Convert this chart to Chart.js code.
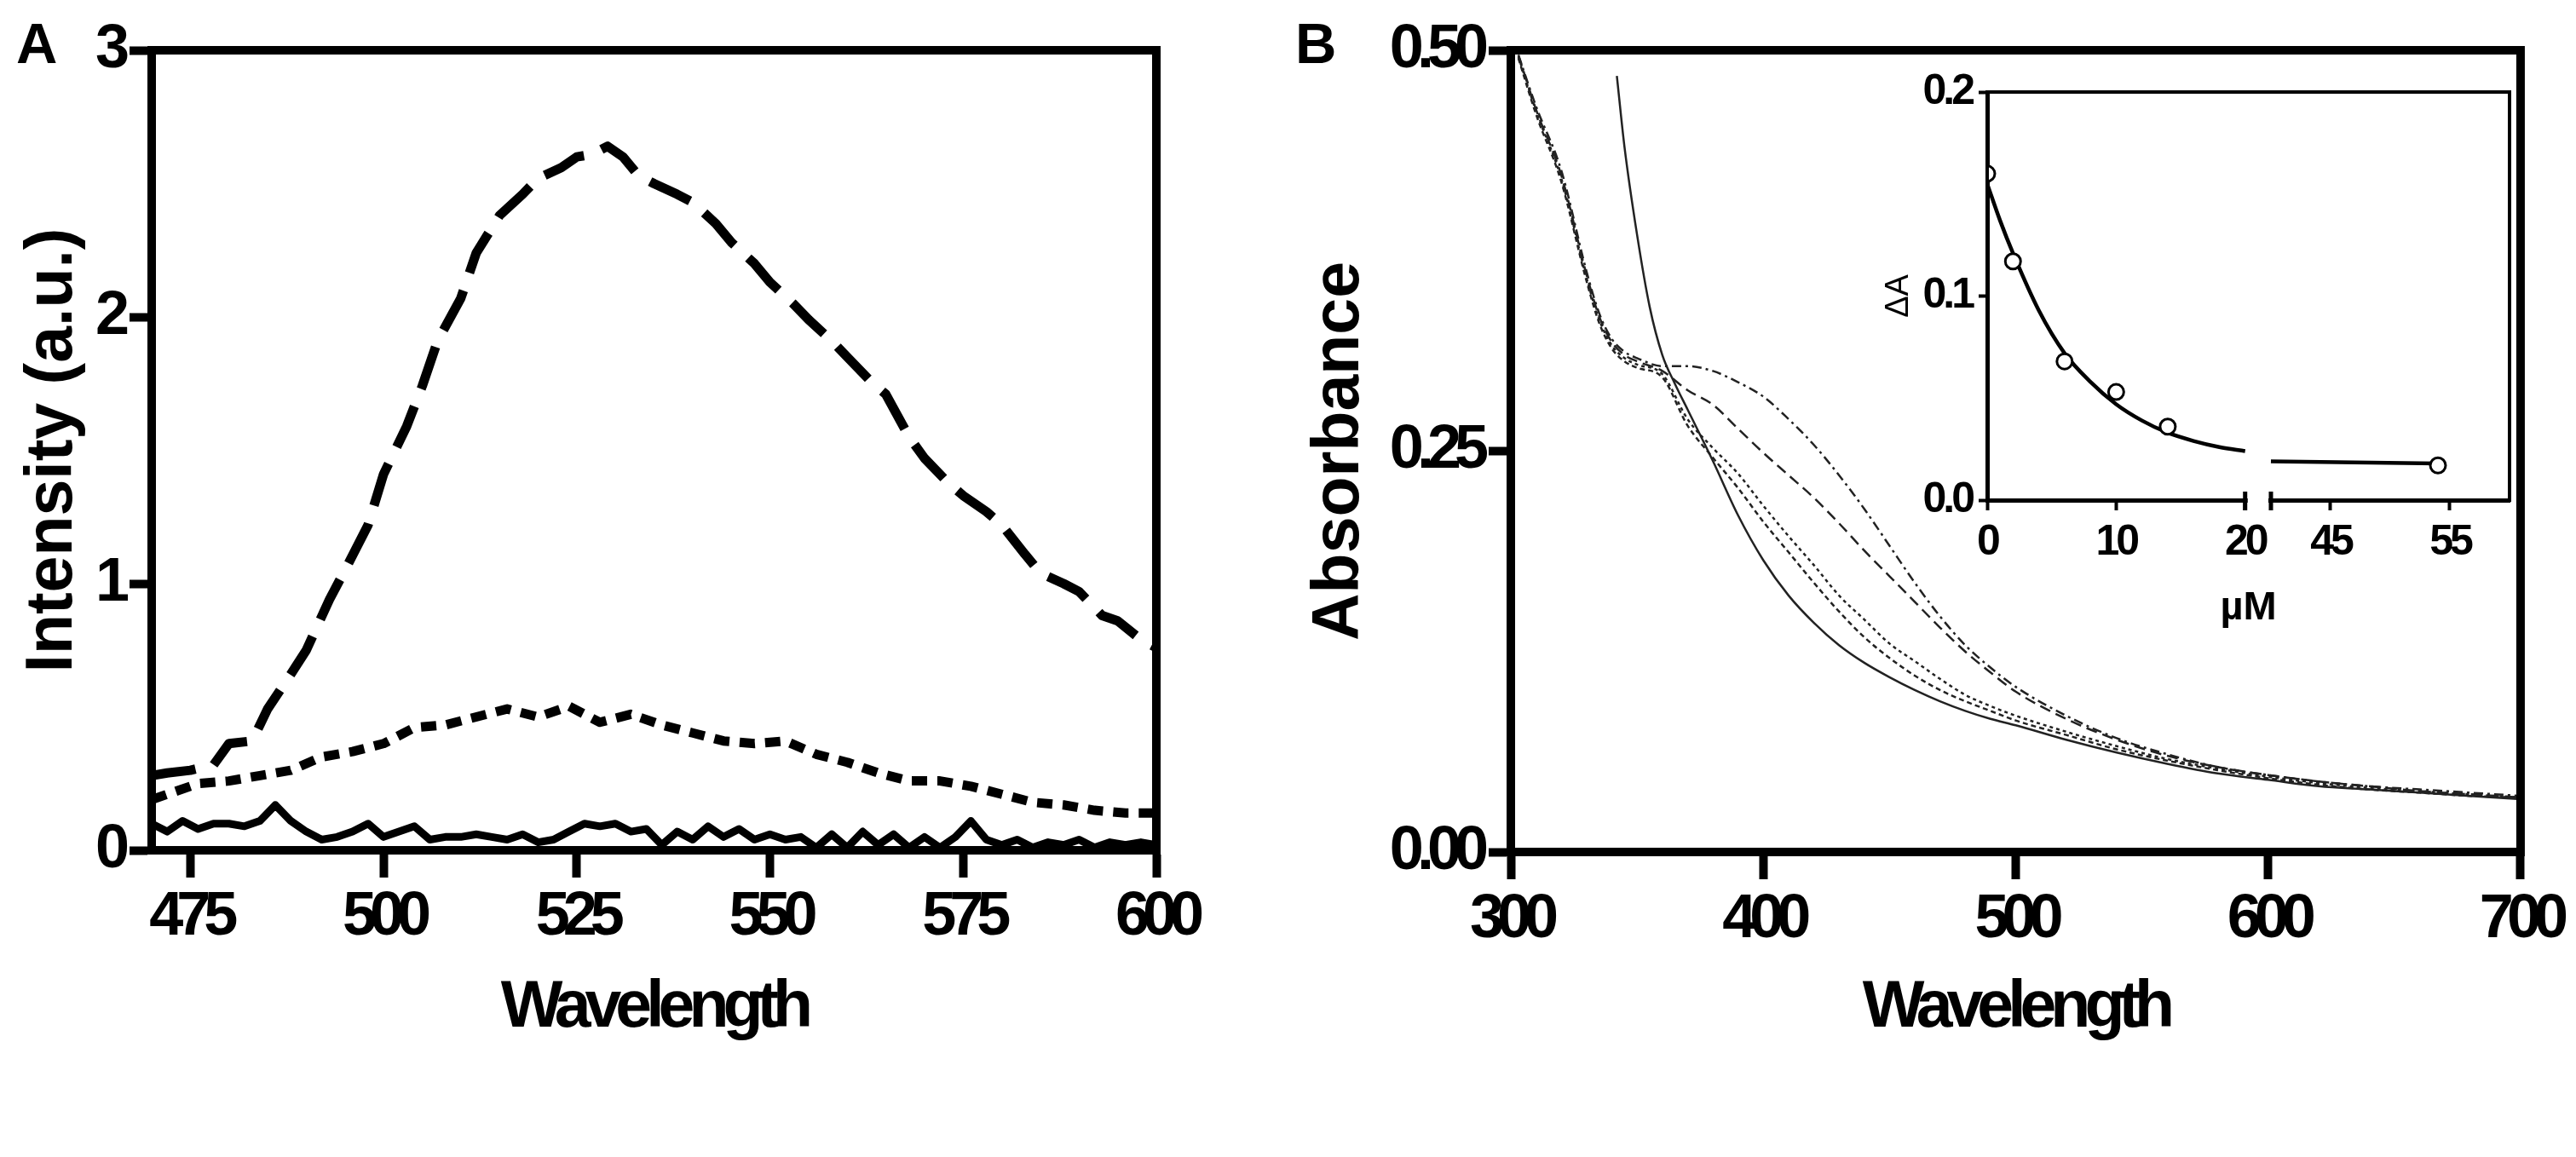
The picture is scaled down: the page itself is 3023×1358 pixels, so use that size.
<!DOCTYPE html>
<html>
<head>
<meta charset="utf-8">
<script src="https://cdn.jsdelivr.net/npm/chart.js@4.4.1/dist/chart.umd.min.js"></script>
<style>
html, body { margin: 0; padding: 0; background: #fff; }
#page { position: relative; width: 3023px; height: 1358px; background: #fff; overflow: hidden; }
canvas { position: absolute; }
.tag { position: absolute; font: bold 67px "Liberation Sans", Arial, sans-serif; line-height: 67px; color: #000; }
</style>
</head>
<body>
<div id="page">
  <canvas id="chartA" width="1500" height="1358" style="left:0;top:0"></canvas>
  <canvas id="chartB" width="1523" height="1358" style="left:1500px;top:0"></canvas>
  <canvas id="inset" width="820" height="700" style="left:2150px;top:70px"></canvas>
  <div class="tag" style="left:19px;top:17px">A</div>
  <div class="tag" style="left:1520px;top:17px">B</div>
</div>
<script>
// ---- panel A: emission spectra ----
const ticksAx = [475, 500, 525, 550, 575, 600];
const ticksAy = [0, 1, 2, 3];

const wlLong = [470,472,475,478,480,483,485,488,490,493,495,498,500,503,505,507,510,512,515,518,520,523,525,527,529,531,533,535,538,540,543,545,548,550,553,555,558,560,563,565,568,570,573,575,578,580,583,585,588,590,593,595,598,600];
const intLong = [0.28,0.29,0.30,0.32,0.40,0.41,0.53,0.66,0.75,0.94,1.05,1.22,1.41,1.59,1.74,1.91,2.07,2.24,2.38,2.46,2.52,2.56,2.60,2.61,2.64,2.60,2.53,2.50,2.46,2.43,2.35,2.28,2.20,2.13,2.05,1.99,1.91,1.85,1.76,1.71,1.55,1.47,1.38,1.33,1.27,1.22,1.11,1.04,1.00,0.97,0.88,0.86,0.79,0.76];

const wlShort = [470,473,476,480,484,488,492,496,500,504,508,512,516,520,524,528,532,536,540,544,548,552,556,560,564,568,572,576,580,584,588,592,596,600];
const intShort = [0.19,0.22,0.25,0.26,0.28,0.30,0.35,0.37,0.40,0.46,0.47,0.50,0.53,0.50,0.54,0.48,0.51,0.47,0.44,0.41,0.40,0.41,0.36,0.33,0.29,0.26,0.26,0.24,0.21,0.18,0.17,0.15,0.14,0.14];

const wlSolid = [470,472,474,476,478,480,482,484,486,488,490,492,494,496,498,500,502,504,506,508,510,512,514,516,518,520,522,524,526,528,530,532,534,536,538,540,542,544,546,548,550,552,554,556,558,560,562,564,566,568,570,572,574,576,578,580,582,584,586,588,590,592,594,596,598,600];
const intSolid = [0.10,0.07,0.11,0.08,0.10,0.10,0.09,0.11,0.17,0.11,0.07,0.04,0.05,0.07,0.10,0.05,0.07,0.09,0.04,0.05,0.05,0.06,0.05,0.04,0.06,0.03,0.04,0.07,0.10,0.09,0.10,0.07,0.08,0.02,0.07,0.04,0.09,0.05,0.08,0.04,0.06,0.04,0.05,0.01,0.06,0.01,0.07,0.02,0.06,0.01,0.05,0.01,0.05,0.11,0.04,0.02,0.04,0.01,0.03,0.02,0.04,0.01,0.03,0.02,0.03,0.02];

// ---- panel B: absorbance spectra ----
const ticksBx = [300, 400, 500, 600, 700];
const ticksBy = [0, 0.25, 0.5];

const wlB = [303,310,320,330,335,340,345,350,360,370,380,390,400,410,420,430,440,450,460,470,480,490,500,520,540,560,580,600,620,640,660,680,700];
const absDashDot = [0.497,0.465,0.425,0.362,0.336,0.320,0.312,0.308,0.303,0.303,0.300,0.293,0.284,0.270,0.254,0.235,0.214,0.191,0.168,0.147,0.129,0.115,0.103,0.085,0.071,0.061,0.053,0.048,0.044,0.041,0.039,0.037,0.035];
const absLongDash = [0.497,0.463,0.422,0.360,0.334,0.318,0.310,0.306,0.300,0.288,0.279,0.264,0.249,0.235,0.221,0.205,0.188,0.172,0.156,0.140,0.125,0.112,0.100,0.083,0.070,0.060,0.053,0.048,0.044,0.041,0.038,0.036,0.034];
const absDotted = [0.496,0.462,0.420,0.358,0.332,0.316,0.308,0.304,0.298,0.270,0.252,0.236,0.216,0.197,0.179,0.160,0.145,0.130,0.119,0.108,0.098,0.091,0.085,0.075,0.066,0.058,0.052,0.047,0.043,0.040,0.038,0.036,0.034];
const absShortDash = [0.495,0.460,0.418,0.356,0.330,0.314,0.306,0.302,0.296,0.266,0.246,0.227,0.206,0.187,0.168,0.150,0.134,0.121,0.110,0.101,0.094,0.088,0.082,0.073,0.064,0.057,0.051,0.046,0.042,0.039,0.037,0.035,0.034];

const wlSteep = [342,345,350,355,360,365,370,380,390,400,410,420,430,440,450,460,470,480,490,500,520,540,560,580,600,620,640,660,680,700];
const absSteep = [0.484,0.440,0.385,0.340,0.310,0.292,0.276,0.244,0.210,0.182,0.160,0.143,0.129,0.118,0.109,0.101,0.094,0.088,0.083,0.079,0.070,0.062,0.055,0.049,0.045,0.041,0.039,0.037,0.035,0.033];

// ---- inset: delta A vs concentration ----
const insetTicksX = [0, 10, 20, 45, 55];
const insetTicksY = [0, 0.1, 0.2];
const concPts = [0, 2, 6, 10, 14, 54];
const deltaPts = [0.160, 0.117, 0.068, 0.053, 0.036, 0.017];
const fitConcLo = [0, 1, 2, 4, 6, 8, 10, 12, 14, 16, 18, 20];
const fitDeltaLo = [0.155, 0.137, 0.121, 0.093, 0.072, 0.058, 0.047, 0.039, 0.033, 0.029, 0.026, 0.024];
const fitConcHi = [40, 54];
const fitDeltaHi = [0.019, 0.018];

const BREAK_LO = 20, BREAK_HI = 40;

const FONT = '"Liberation Sans", Arial, sans-serif';

Chart.defaults.color = '#000';
Chart.defaults.font.family = FONT;

function pts(xs, ys) {
    return xs.map((x, i) => ({ x: x, y: ys[i] }));
}

// broken inset axis: 0-20 kept as is, 40-60 squeezed in after a small gap
function insetX(v) {
    return v <= BREAK_LO ? v : BREAK_LO + 2 + (v - BREAK_HI) * 0.925;
}

// GraphPad sets its labels very tight, so squeeze the letters of one scale
function withSpacing(ctx, px, fn) {
    const old = ctx.letterSpacing;
    ctx.letterSpacing = px + 'px';
    fn();
    ctx.letterSpacing = old;
}

function tighten(s, labelPx, titlePx) {
    if (s._tight) return;
    s._tight = true;
    const drawLabels = s.drawLabels, drawTitle = s.drawTitle;
    s.drawLabels = function (area) { withSpacing(this.ctx, labelPx, () => drawLabels.call(this, area)); };
    s.drawTitle = function () { withSpacing(this.ctx, titlePx, () => drawTitle.call(this)); };
}

// box round the plot area
const frame = {
    id: 'frame',
    afterDraw(chart, args, opts) {
        const { ctx, chartArea: a } = chart;
        ctx.save();
        ctx.strokeStyle = '#000';
        ctx.lineWidth = opts.width || 10;
        ctx.lineJoin = 'miter';
        ctx.strokeRect(a.left, a.top, a.right - a.left, a.bottom - a.top);
        ctx.restore();
    }
};

// gap in the inset x axis
const axisBreak = {
    id: 'axisBreak',
    afterDraw(chart) {
        const { ctx, chartArea: a, scales } = chart;
        const p1 = scales.x.getPixelForValue(insetX(BREAK_LO));
        const p2 = scales.x.getPixelForValue(insetX(BREAK_HI));
        ctx.save();
        ctx.fillStyle = '#fff';
        ctx.fillRect(p1 + 3, a.bottom - 6, p2 - p1 - 6, 12);
        ctx.strokeStyle = '#000';
        ctx.lineWidth = 5;
        ctx.beginPath();
        [p1, p2].forEach(p => {
            ctx.moveTo(p, a.bottom - 10);
            ctx.lineTo(p, a.bottom + 12);
        });
        ctx.stroke();
        ctx.restore();
    }
};

function fixedTicks(list) {
    return s => { s.ticks = list.map(v => ({ value: v })); };
}

function mainX(min, max, list, pad, height) {
    return {
        type: 'linear', min: min, max: max,
        afterBuildTicks: fixedTicks(list),
        afterFit: s => { s.height = height; tighten(s, -8, -7); },
        border: { display: true, width: 10, color: '#000' },
        grid: { drawOnChartArea: false, tickLength: 32, tickWidth: 10, tickColor: '#000' },
        ticks: { padding: pad, maxRotation: 0, autoSkip: false, font: { size: 72, weight: 'bold' } },
        title: { display: true, text: 'Wavelength', font: { size: 77, weight: 'bold' }, padding: { top: 0, bottom: 128 } }
    };
}

function mainY(min, max, list, label, titlePad, digits, width) {
    return {
        type: 'linear', min: min, max: max,
        afterBuildTicks: fixedTicks(list),
        afterFit: s => { s.width = width; tighten(s, -8, 0); },
        border: { display: true, width: 10, color: '#000' },
        grid: { drawOnChartArea: false, tickLength: 26, tickWidth: 10, tickColor: '#000' },
        ticks: {
            padding: 8, autoSkip: false,
            font: { size: 72, weight: 'bold' },
            callback: v => digits ? v.toFixed(digits) : String(v)
        },
        title: { display: true, text: label, font: { size: 77, weight: 'bold' }, padding: { top: titlePad, bottom: 0 } }
    };
}

const noHud = { legend: { display: false }, tooltip: { enabled: false } };

// Panel A
new Chart(document.getElementById('chartA'), {
    type: 'line',
    data: {
        datasets: [
            { data: pts(wlLong, intLong), borderColor: '#000', borderWidth: 11, borderDash: [52, 22], pointRadius: 0, borderJoinStyle: 'round' },
            { data: pts(wlShort, intShort), borderColor: '#000', borderWidth: 11, borderDash: [18, 12], pointRadius: 0, borderJoinStyle: 'round' },
            { data: pts(wlSolid, intSolid), borderColor: '#000', borderWidth: 9, pointRadius: 0, borderJoinStyle: 'round' }
        ]
    },
    options: {
        responsive: false, animation: false,
        layout: { padding: { left: 0, top: 59, right: 143, bottom: 0 } },
        plugins: Object.assign({ frame: { width: 10 } }, noHud),
        scales: {
            x: mainX(470, 600, ticksAx, 4, 360),
            y: mainY(0, 3, ticksAy, 'Intensity (a.u.)', 17, 0, 178)
        }
    },
    plugins: [frame]
});

// Panel B
const thin = { borderColor: '#222', borderWidth: 2.5, pointRadius: 0, cubicInterpolationMode: 'monotone' };

new Chart(document.getElementById('chartB'), {
    type: 'line',
    data: {
        datasets: [
            Object.assign({ data: pts(wlB, absDashDot), borderDash: [11, 5, 3, 5] }, thin),
            Object.assign({ data: pts(wlB, absLongDash), borderDash: [13, 7] }, thin),
            Object.assign({ data: pts(wlB, absDotted), borderDash: [4, 4] }, thin),
            Object.assign({ data: pts(wlB, absShortDash), borderDash: [6, 4] }, thin),
            Object.assign({ data: pts(wlSteep, absSteep) }, thin)
        ]
    },
    options: {
        responsive: false, animation: false,
        layout: { padding: { left: 0, top: 59, right: 62, bottom: 0 } },
        plugins: Object.assign({ frame: { width: 10 } }, noHud),
        scales: {
            x: mainX(300, 700, ticksBx, 5, 358),
            y: mainY(0, 0.5, ticksBy, 'Absorbance', 27, 2, 273)
        }
    },
    plugins: [frame]
});

// Inset
new Chart(document.getElementById('inset'), {
    type: 'line',
    data: {
        datasets: [
            { data: pts(concPts.map(insetX), deltaPts), showLine: false, pointRadius: 9, pointBorderWidth: 3,
              pointBorderColor: '#000', pointBackgroundColor: '#fff', borderColor: '#000' },
            { data: pts(fitConcLo.map(insetX), fitDeltaLo), borderColor: '#000', borderWidth: 4.5, pointRadius: 0, cubicInterpolationMode: 'monotone' },
            { data: pts(fitConcHi.map(insetX), fitDeltaHi), borderColor: '#000', borderWidth: 4.5, pointRadius: 0 }
        ]
    },
    options: {
        responsive: false, animation: false,
        layout: { padding: { left: 0, top: 31, right: 25, bottom: 0 } },
        plugins: Object.assign({ frame: { width: 4 } }, noHud),
        scales: {
            x: {
                type: 'linear', min: 0, max: insetX(60),
                afterBuildTicks: s => { s.ticks = insetTicksX.map(v => ({ value: insetX(v) })); },
                afterFit: s => { s.height = 183; tighten(s, -4, 0); },
                border: { display: true, width: 5, color: '#000' },
                grid: { drawOnChartArea: false, tickLength: 12, tickWidth: 4, tickColor: '#000' },
                ticks: {
                    padding: 8, maxRotation: 0, autoSkip: false,
                    font: { size: 50, weight: 'bold' },
                    callback: (v, i) => String(insetTicksX[i])
                },
                title: { display: true, text: 'µM', font: { size: 47, weight: 'bold' }, padding: { top: 0, bottom: 28 } }
            },
            y: {
                type: 'linear', min: 0, max: 0.2,
                afterBuildTicks: fixedTicks(insetTicksY),
                afterFit: s => { s.width = 182; tighten(s, -4, 0); },
                border: { display: true, width: 5, color: '#000' },
                grid: { drawOnChartArea: false, tickLength: 10, tickWidth: 4, tickColor: '#000' },
                ticks: {
                    padding: 8, autoSkip: false,
                    font: { size: 50, weight: 'bold' },
                    callback: v => v.toFixed(1)
                },
                title: { display: true, text: 'ΔA', font: { size: 38, weight: 'normal' }, padding: { top: 56, bottom: 0 } }
            }
        }
    },
    plugins: [frame, axisBreak]
});
</script>
</body>
</html>
